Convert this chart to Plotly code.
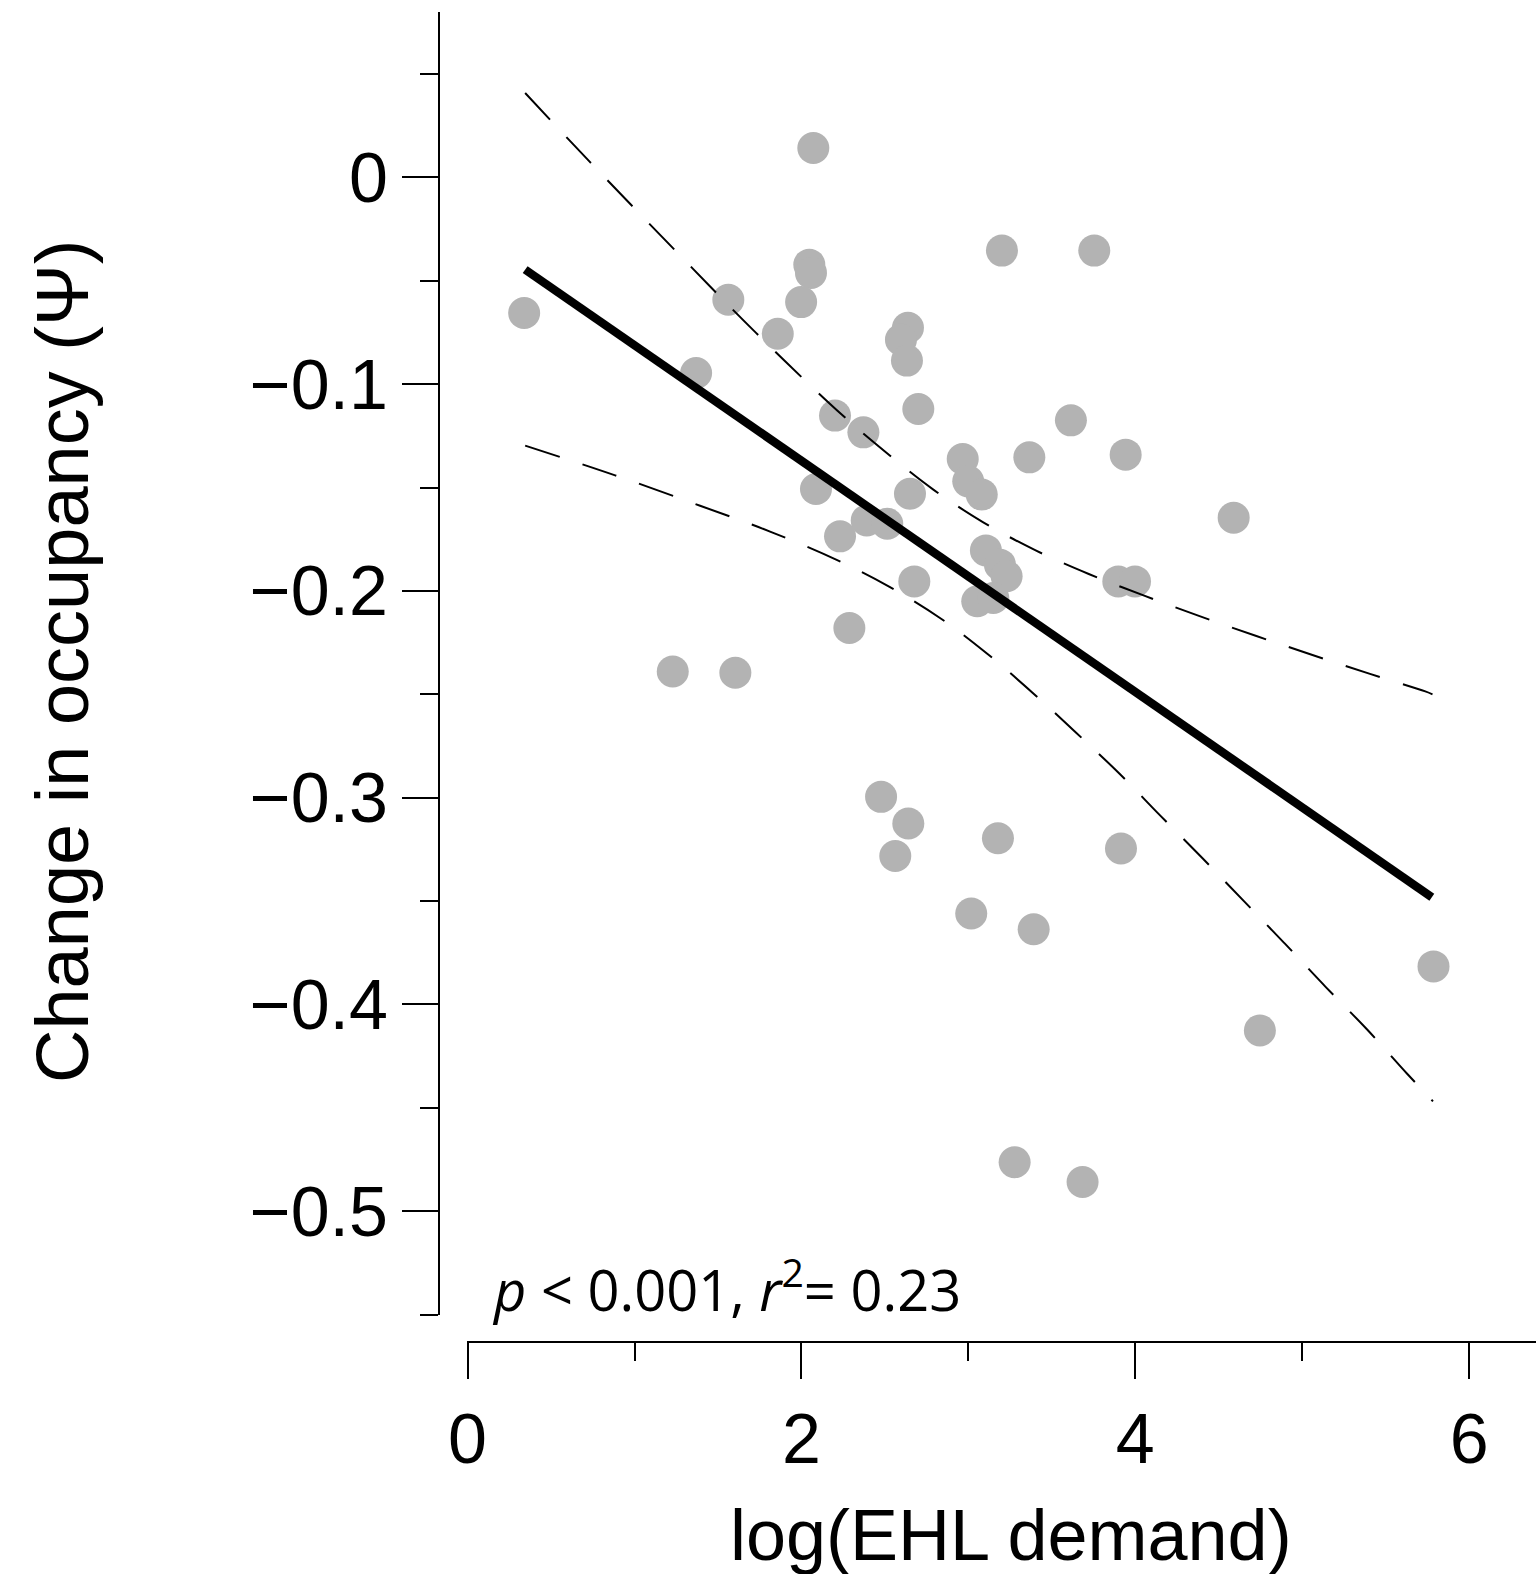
import plotly.graph_objects as go

# ---- data ----
demand_log = [0.339, 2.071, 2.047, 2.057, 1.562, 1.998, 1.858, 1.369, 3.201, 3.754,
              2.638, 2.596, 2.632, 2.700, 2.201, 2.371, 3.614, 3.942, 3.365, 2.966,
              2.999, 3.080, 2.650, 2.087, 4.589, 2.391, 2.514, 2.231, 3.105, 3.189,
              3.229, 3.898, 3.998, 2.676, 3.053, 3.149, 2.287, 1.229, 1.604, 2.477,
              2.640, 2.562, 3.177, 3.914, 3.017, 3.391, 5.786, 4.746, 3.277, 3.684]
occ_change = [-0.0656, 0.0142, -0.0422, -0.0462, -0.0592, -0.0603, -0.0756, -0.0946, -0.0354, -0.0354,
              -0.0727, -0.0785, -0.0886, -0.1120, -0.1152, -0.1233, -0.1175, -0.1341, -0.1354, -0.1362,
              -0.1470, -0.1534, -0.1530, -0.1507, -0.1646, -0.1659, -0.1675, -0.1736, -0.1804, -0.1873,
              -0.1929, -0.1954, -0.1954, -0.1954, -0.2050, -0.2034, -0.2179, -0.2390, -0.2396, -0.2996,
              -0.3125, -0.3282, -0.3196, -0.3246, -0.3560, -0.3636, -0.3816, -0.4126, -0.4763, -0.4859]

fit_x = [0.345, 5.776]
fit_y = [-0.0446, -0.3481]

upper_x = [0.345, 0.734, 1.229, 1.728, 2.241, 2.511, 2.790, 3.089, 3.403, 3.721,
           4.053, 4.385, 4.725, 5.061, 5.401, 5.737, 5.780]
upper_y = [0.0408, 0.0074, -0.0341, -0.0752, -0.1147, -0.1333, -0.1510, -0.1668, -0.1804, -0.1918,
           -0.2023, -0.2122, -0.2218, -0.2310, -0.2400, -0.2486, -0.2500]

lower_x = [0.345, 0.884, 1.393, 1.812, 2.211, 2.525, 2.832, 3.113, 3.384, 3.647,
           3.904, 4.151, 4.404, 4.649, 4.896, 5.141, 5.387, 5.628, 5.783]
lower_y = [-0.1297, -0.1441, -0.1588, -0.1713, -0.1850, -0.1979, -0.2132, -0.2304, -0.2492, -0.2687,
           -0.2883, -0.3088, -0.3294, -0.3499, -0.3706, -0.3916, -0.4120, -0.4335, -0.4469]

x_major_ticks = [0, 2, 4, 6]
y_major_ticks = [0, -0.1, -0.2, -0.3, -0.4, -0.5]
y_tick_text = ["0", "\u22120.1", "\u22120.2", "\u22120.3", "\u22120.4", "\u22120.5"]

x_title = "log(EHL demand)"
y_title = "Change in occupancy (\u03a8)"
stats_text = "<i>p</i> &lt; 0.001, <i>r</i><sup>2</sup>= 0.23"

# ---- figure ----
fig = go.Figure()
fig.add_trace(go.Scatter(x=demand_log, y=occ_change, mode="markers",
                         marker=dict(size=32, color="#b3b3b3", line=dict(width=0)),
                         hoverinfo="skip"))
dash = "36px,24px"
fig.add_trace(go.Scatter(x=upper_x, y=upper_y, mode="lines",
                         line=dict(color="black", width=2, dash=dash, shape="spline")))
fig.add_trace(go.Scatter(x=lower_x, y=lower_y, mode="lines",
                         line=dict(color="black", width=2, dash=dash, shape="spline")))
fig.add_trace(go.Scatter(x=fit_x, y=fit_y, mode="lines",
                         line=dict(color="black", width=8.5)))

tick_font = dict(family="Liberation Sans, Arial, sans-serif", size=70, color="black")
W, H = 1536, 1574
L, R, T, B = 439, 0, 12, 232
pw, ph = W - L - R, H - T - B

fig.update_layout(
    width=W, height=H,
    margin=dict(l=L, r=R, t=T, b=B, pad=0),
    plot_bgcolor="white", paper_bgcolor="white",
    showlegend=False,
    xaxis=dict(domain=[(467.4 - L) / pw, 1], range=[-0.001, 6.40],
               anchor="free", position=0,
               showline=True, linecolor="black", linewidth=2,
               showgrid=False, zeroline=False,
               tickmode="array", tickvals=x_major_ticks, ticktext=[str(v) for v in x_major_ticks],
               ticks="outside", ticklen=36, tickwidth=2, tickcolor="black",
               minor=dict(dtick=1, tick0=0, ticks="outside", ticklen=18, tickwidth=2, tickcolor="black", showgrid=False),
               tickfont=tick_font),
    yaxis=dict(domain=[(1342 - 1315) / ph, 1], range=[-0.5502, 0.08],
               anchor="free", position=0,
               showline=True, linecolor="black", linewidth=2,
               showgrid=False, zeroline=False,
               tickmode="array", tickvals=y_major_ticks, ticktext=y_tick_text,
               ticks="outside", ticklen=36, tickwidth=2, tickcolor="black",
               minor=dict(dtick=0.05, tick0=0, ticks="outside", ticklen=18, tickwidth=2, tickcolor="black", showgrid=False),
               tickfont=tick_font),
)

fig.add_annotation(text=x_title, xref="paper", yref="paper",
                   x=(1011 - L) / pw, y=(1342 - 1535) / ph,
                   xanchor="center", yanchor="middle", showarrow=False,
                   font=dict(family="Liberation Sans, Arial, sans-serif", size=72, color="black"))
fig.add_annotation(text=y_title, xref="paper", yref="paper",
                   x=(62 - L) / pw, y=(1342 - 662) / ph, textangle=-90,
                   xanchor="center", yanchor="middle", showarrow=False,
                   font=dict(family="Liberation Sans, Arial, sans-serif", size=74, color="black"))
fig.add_annotation(text=stats_text, xref="paper", yref="paper",
                   x=(490 - L) / pw, y=(1342 - 1286) / ph,
                   xanchor="left", yanchor="middle", showarrow=False,
                   font=dict(family="Open Sans, sans-serif", size=56, color="black"))

fig.write_html("out.html")
